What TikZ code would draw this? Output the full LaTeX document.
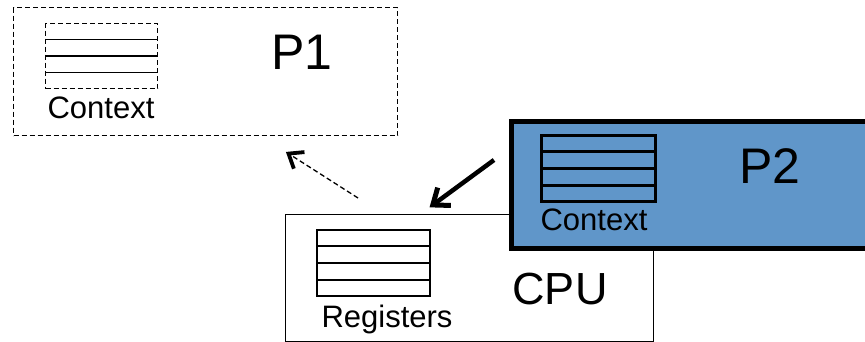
\documentclass[tikz,border=0pt]{standalone}
\usepackage{fontspec}
\setmainfont{Liberation Sans}
\usetikzlibrary{calc}
\definecolor{pblue}{RGB}{96,150,201}
\tikzset{
  box/.style={draw, anchor=north west, inner sep=0pt, rectangle},
  dsh/.style={dash pattern=on 5pt off 3pt},
  lbl/.style={anchor=base, inner sep=0pt, font=\fontsize{31}{36}\selectfont},
  big/.style={anchor=base, inner sep=0pt, font=\fontsize{50}{58}\selectfont},
  barb/.style={line join=miter, line cap=butt, solid},
}
\newcommand{\stackrows}[2]{%
  \foreach \f in {0.25,0.5,0.75}{%
    \draw[line width=#2] ($(#1.north west)!\f!(#1.south west)$) -- ($(#1.north east)!\f!(#1.south east)$);}%
}
\begin{document}
\begin{tikzpicture}[x=1pt,y=-1pt]
\useasboundingbox (0,0) rectangle (865,342);
\clip (0,0) rectangle (865,342);
% P1
\node[box, dsh, line width=1.4pt, minimum width=384pt, minimum height=128pt] (p1) at (13,7) {};
\node[box, dsh, line width=1.4pt, minimum width=112pt, minimum height=65pt] (ctx1) at (45,23) {};
\stackrows{ctx1}{1.4pt}
\node[lbl] (ctx1t) at (101,119) {Context};
\node[big] (p1t) at (302,70) {P1};
% CPU
\node[box, line width=1.3pt, minimum width=368pt, minimum height=127pt] (cpu) at (285,214) {};
\node[box, line width=1.6pt, minimum width=113pt, minimum height=66pt] (reg) at (316,229) {};
\stackrows{reg}{1.6pt}
\node[lbl] (regt) at (387,327) {Registers};
\node[anchor=base, inner sep=0pt, font=\fontsize{45}{52}\selectfont] (cput) at (560,304) {CPU};
% P2
\node[box, line width=5pt, fill=pblue, minimum width=400pt, minimum height=126pt] (p2) at (509,119.5) {};
\node[box, line width=3pt, minimum width=114pt, minimum height=66pt] (ctx2) at (540,134) {};
\stackrows{ctx2}{3pt}
\node[lbl] (ctx2t) at (594,230) {Context};
\node[big] (p2t) at (770,183) {P2};
% arrows
\coordinate (a1s) at (358,198);
\coordinate (a1e) at (286,152);
\coordinate (a2s) at (494,160);
\coordinate (a2e) at (430,207);
% dashed arrow (switch back to P1)
\coordinate (a1t) at ($(a1e)!3pt!(a1s)$);
\draw[dsh, line width=1.3pt] (a1s) -- ($(a1e)!6pt!(a1s)$);
\draw[barb, line width=3.8pt] ($(a1t)!16pt!38:(a1s)$) -- (a1t) -- ($(a1t)!16pt!-38:(a1s)$);
% solid arrow (P2 loaded into CPU)
\coordinate (a2t) at ($(a2e)!3.5pt!(a2s)$);
\draw[line width=4.5pt] (a2s) -- ($(a2e)!7pt!(a2s)$);
\draw[barb, line width=5pt] ($(a2t)!18pt!38:(a2s)$) -- (a2t) -- ($(a2t)!18pt!-38:(a2s)$);
\end{tikzpicture}
\end{document}
